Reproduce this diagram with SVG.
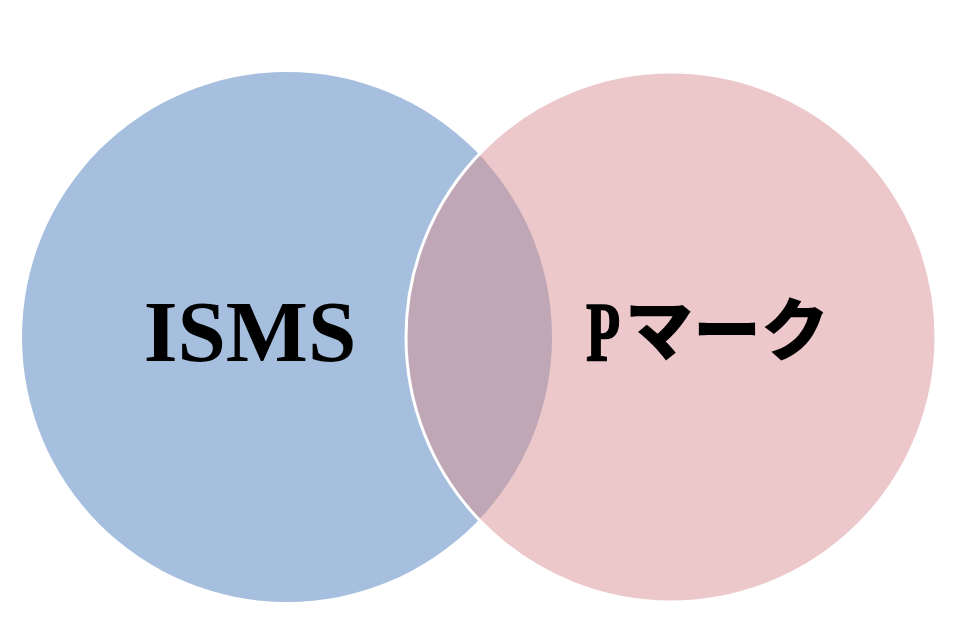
<svg xmlns="http://www.w3.org/2000/svg" width="960" height="640" viewBox="0 0 960 640">
<style>
.lbl{font-family:"Liberation Serif","Times New Roman",serif;font-weight:bold;fill:#000}
.kana{font-family:"Noto Sans CJK JP",sans-serif;font-weight:900;fill:#000}
</style>
<defs>
<clipPath id="clipLeft"><circle cx="287" cy="337" r="265"/></clipPath>
</defs>
<rect width="960" height="640" fill="#ffffff"/>
<g id="isms">
<circle cx="287" cy="337" r="265" fill="#a7bfde"/>
</g>
<g id="pmark">
<circle cx="671" cy="337" r="265" fill="#ecc8ca"/>
</g>
<g id="overlap">
<circle cx="671" cy="337" r="265" fill="#bfa7b6" clip-path="url(#clipLeft)"/>
<circle cx="671" cy="337" r="265" fill="none" stroke="#ffffff" stroke-width="3"/>
</g>
<g id="labels">
<text class="lbl" x="250" y="361" font-size="87" text-anchor="middle">ISMS</text>
<text class="lbl" transform="translate(586 361) scale(0.66 1)" x="0" y="0" font-size="85" stroke="#000" stroke-width="1.5">P</text>
<text class="kana" x="625" y="355" font-size="68" textLength="204" lengthAdjust="spacingAndGlyphs">マーク</text>
</g>
</svg>
